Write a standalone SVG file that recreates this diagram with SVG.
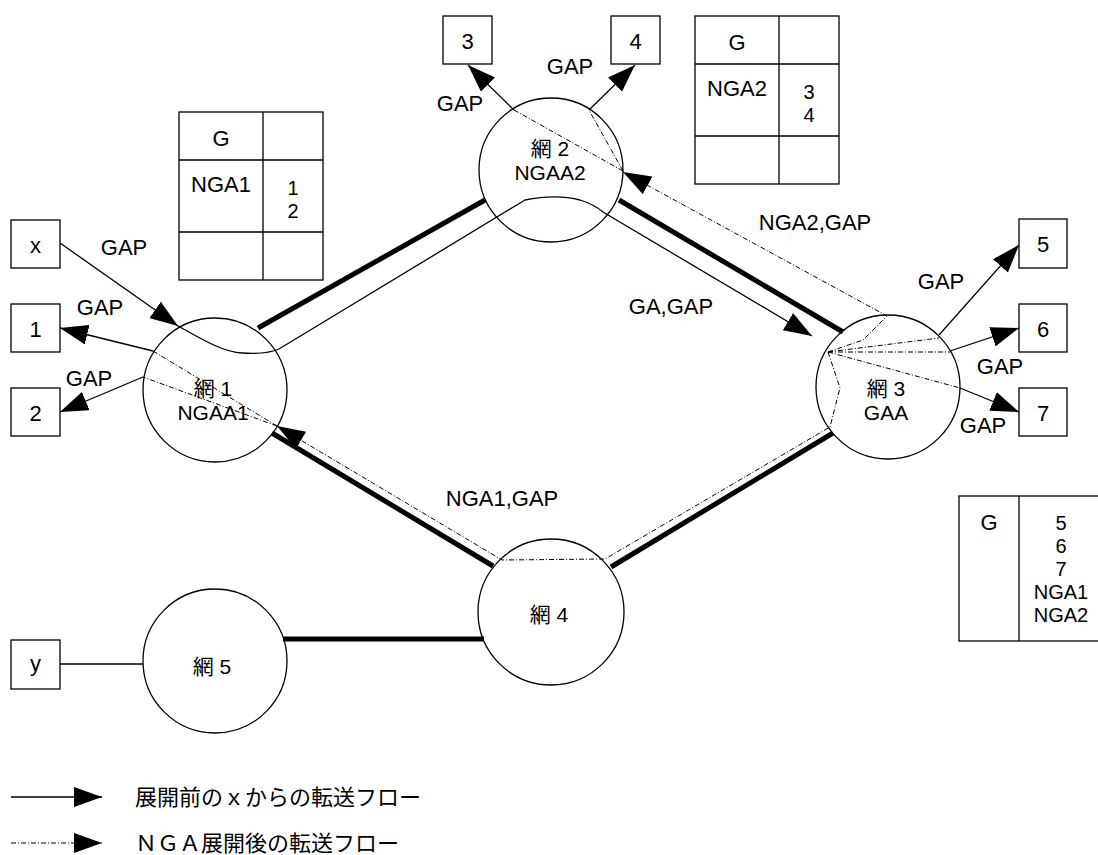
<svg xmlns="http://www.w3.org/2000/svg" width="1098" height="855" viewBox="0 0 1098 855">
<style>
  text { font-family: "Liberation Sans", "Noto Sans CJK JP", sans-serif; font-size: 22px; fill: #000; }
  .c { text-anchor: middle; }
  .s { font-size: 20px; }
  .n { font-size: 21px; }
  .node { fill: none; stroke: #000; stroke-width: 1.3; }
  .box { fill: #fff; stroke: #000; stroke-width: 1.3; }
  .tbl { fill: none; stroke: #000; stroke-width: 1.3; }
  .link { fill: none; stroke: #000; stroke-width: 5; }
  .flow { fill: none; stroke: #000; stroke-width: 1.3; }
  .nga { fill: none; stroke: #000; stroke-width: 1; stroke-dasharray: 5 2 1 2; }
</style>
<defs>
  <marker id="ah" markerUnits="userSpaceOnUse" markerWidth="28" markerHeight="20" refX="28" refY="10" orient="auto">
    <path d="M0,0 L28,10 L0,20 z" fill="#000" stroke="none"/>
  </marker>
</defs>

<g id="connectors">
  <path class="link" d="M258,328 L485,200"/>
  <path class="link" d="M619,200 L843,332"/>
  <path class="link" d="M272,433 L493,566"/>
  <path class="link" d="M611,567 L833,433"/>
  <path class="link" d="M283,639 L484,639"/>
  <path class="flow" d="M60,664 L143,664"/>
  <path class="flow" d="M60,243 L178,326" marker-end="url(#ah)"/>
  <path class="flow" d="M178,326 C200,338 222,352 242,353 C258,354 270,353 279,349 L525,200 C545,196 565,196 580,200 C590,203 597,207 603,212 L812,336" marker-end="url(#ah)"/>
  <path class="flow" d="M153,351 L60,328" marker-end="url(#ah)"/>
  <path class="flow" d="M143,377 L60,412" marker-end="url(#ah)"/>
  <path class="flow" d="M514,110 L468,65" marker-end="url(#ah)"/>
  <path class="flow" d="M589,110 L635,65" marker-end="url(#ah)"/>
  <path class="flow" d="M939,335 L1019,245" marker-end="url(#ah)"/>
  <path class="flow" d="M950,351 L1019,328" marker-end="url(#ah)"/>
  <path class="flow" d="M960,388 L1019,412" marker-end="url(#ah)"/>
  <path class="nga" d="M828,352 L863,340 L887,316 L623,172" marker-end="url(#ah)"/>
  <path class="nga" d="M623,171 L514,110"/>
  <path class="nga" d="M623,171 L589,110"/>
  <path class="nga" d="M828,352 L939,338"/>
  <path class="nga" d="M828,352 L950,352"/>
  <path class="nga" d="M828,352 L960,388"/>
  <path class="nga" d="M828,352 L840,388 L830,427 L605,559 L502,560 L277,426" marker-end="url(#ah)"/>
  <path class="nga" d="M277,426 L153,351"/>
  <path class="nga" d="M277,426 L143,377"/>
  <text class="c" x="124" y="255">GAP</text>
  <text class="c" x="100" y="315">GAP</text>
  <text class="c" x="89" y="386">GAP</text>
  <text class="c" x="460" y="111">GAP</text>
  <text class="c" x="570" y="74">GAP</text>
  <text class="c" x="941" y="289">GAP</text>
  <text class="c" x="1000" y="374">GAP</text>
  <text class="c" x="983" y="433">GAP</text>
  <text class="c" x="815" y="230">NGA2,GAP</text>
  <text class="c" x="671" y="314">GA,GAP</text>
  <text class="c" x="502" y="506">NGA1,GAP</text>
</g>

<g id="net1">
  <circle class="node" cx="215" cy="390" r="72"/>
  <text class="c n" x="213" y="396">網 1</text>
  <text class="c n" x="213" y="420">NGAA1</text>
</g>
<g id="net2">
  <circle class="node" cx="551" cy="170" r="72"/>
  <text class="c n" x="550" y="156">網 2</text>
  <text class="c n" x="550" y="180">NGAA2</text>
</g>
<g id="net3">
  <circle class="node" cx="888" cy="387" r="72"/>
  <text class="c n" x="886" y="396">網 3</text>
  <text class="c n" x="886" y="420">GAA</text>
</g>
<g id="net4">
  <circle class="node" cx="551" cy="612" r="73"/>
  <text class="c n" x="549" y="622">網 4</text>
</g>
<g id="net5">
  <circle class="node" cx="215" cy="661" r="72"/>
  <text class="c n" x="212" y="674">網 5</text>
</g>

<g id="host-x"><rect class="box" x="11" y="220" width="49" height="48"/><text class="c" x="35.5" y="253">x</text></g>
<g id="host-1"><rect class="box" x="11" y="304" width="49" height="48"/><text class="c" x="35.5" y="337">1</text></g>
<g id="host-2"><rect class="box" x="11" y="388" width="49" height="48"/><text class="c" x="35.5" y="421">2</text></g>
<g id="host-y"><rect class="box" x="11" y="640" width="49" height="49"/><text class="c" x="35.5" y="671">y</text></g>
<g id="host-3"><rect class="box" x="443" y="16" width="49" height="48"/><text class="c" x="467.5" y="49">3</text></g>
<g id="host-4"><rect class="box" x="611" y="16" width="49" height="48"/><text class="c" x="635.5" y="49">4</text></g>
<g id="host-5"><rect class="box" x="1019" y="219" width="48" height="49"/><text class="c" x="1043" y="252">5</text></g>
<g id="host-6"><rect class="box" x="1019" y="304" width="48" height="48"/><text class="c" x="1043" y="337">6</text></g>
<g id="host-7"><rect class="box" x="1019" y="388" width="48" height="48"/><text class="c" x="1043" y="421">7</text></g>

<g id="table1">
  <rect class="tbl" x="179" y="112" width="144" height="168"/>
  <path class="tbl" d="M179,160 H323 M179,232 H323 M263,112 V280"/>
  <text class="c" x="221" y="146">G</text>
  <text class="c" x="221" y="192">NGA1</text>
  <text class="c s" x="293" y="195">1</text>
  <text class="c s" x="293" y="218">2</text>
</g>
<g id="table2">
  <rect class="tbl" x="695" y="16" width="144" height="168"/>
  <path class="tbl" d="M695,64 H839 M695,136 H839 M779,16 V184"/>
  <text class="c" x="737" y="50">G</text>
  <text class="c" x="737" y="96">NGA2</text>
  <text class="c s" x="809" y="99">3</text>
  <text class="c s" x="809" y="122">4</text>
</g>
<g id="table3">
  <rect class="tbl" x="959" y="496" width="144" height="145"/>
  <path class="tbl" d="M1019,496 V641"/>
  <text class="c" x="989" y="530">G</text>
  <text class="c s" x="1061" y="530">5</text>
  <text class="c s" x="1061" y="553">6</text>
  <text class="c s" x="1061" y="576">7</text>
  <text class="c s" x="1061" y="599">NGA1</text>
  <text class="c s" x="1061" y="622">NGA2</text>
</g>

<g id="legend">
  <path class="flow" d="M11,797 L102,797" marker-end="url(#ah)"/>
  <text x="135" y="805">展開前のｘからの転送フロー</text>
  <path class="nga" d="M11,843 L102,843" marker-end="url(#ah)"/>
  <text x="135" y="851">ＮＧＡ展開後の転送フロー</text>
</g>
</svg>
